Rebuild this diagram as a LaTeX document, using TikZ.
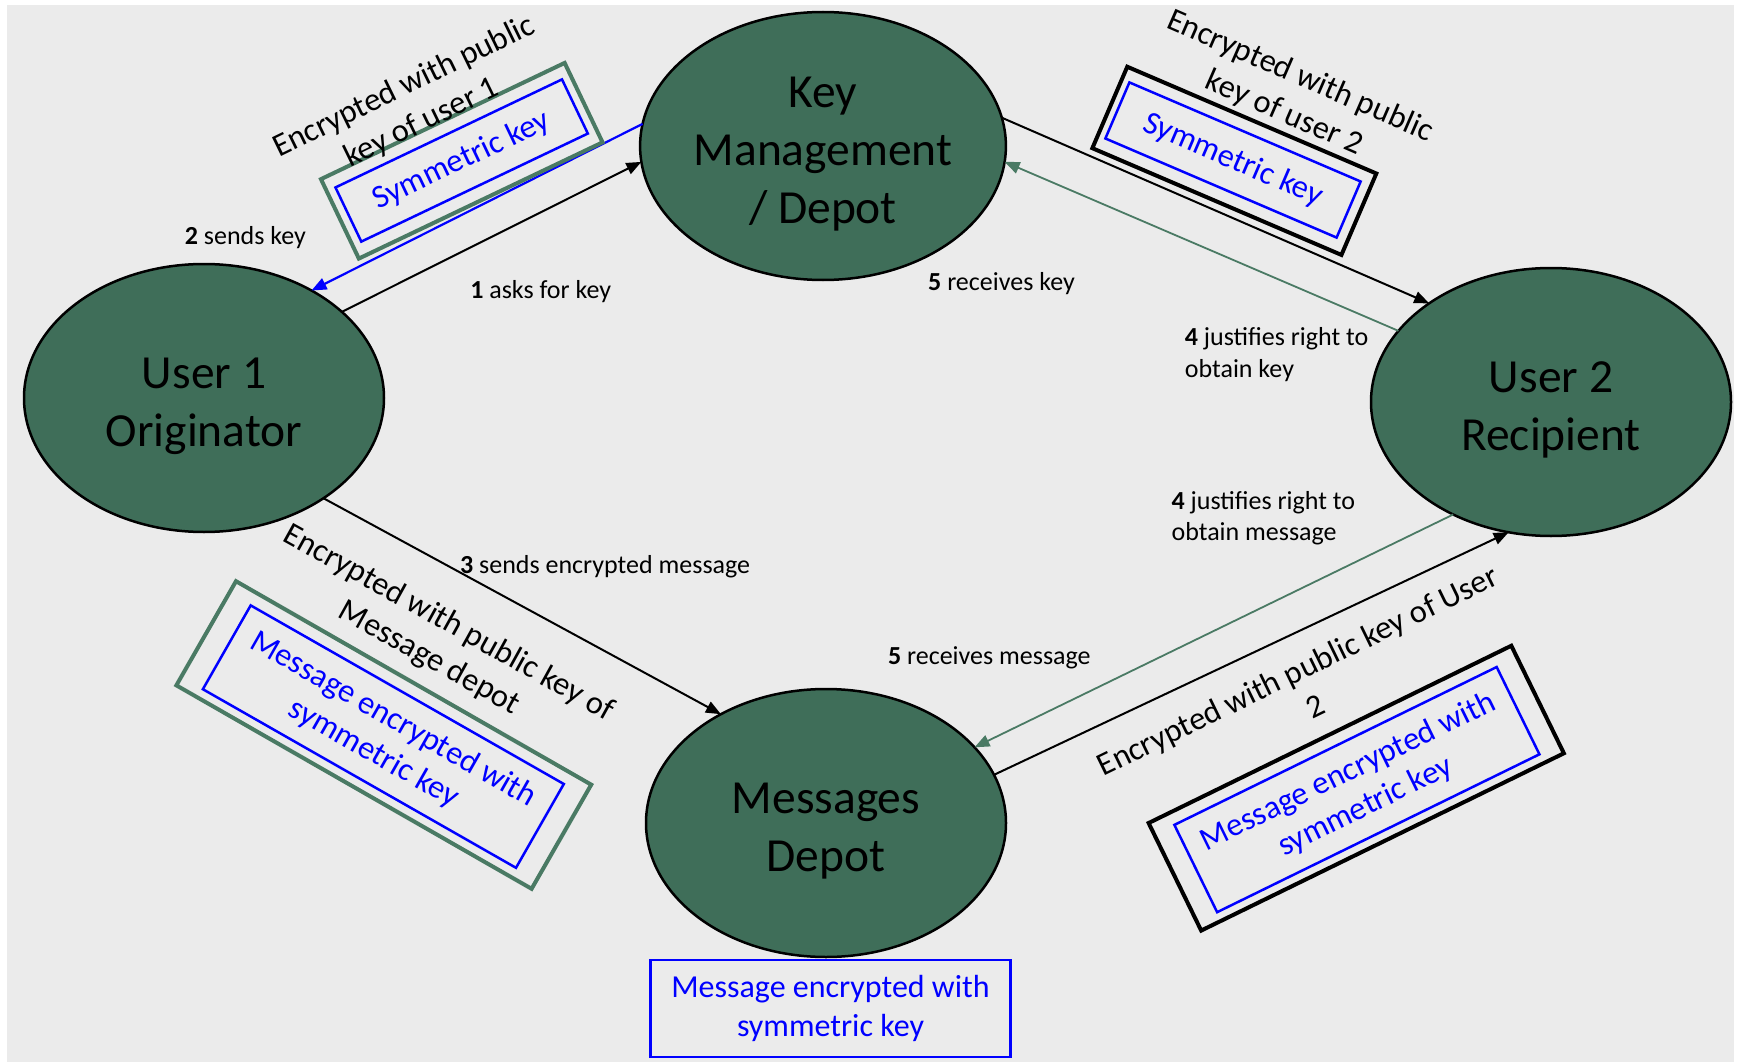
\documentclass[tikz,border=0pt]{standalone}
\usepackage{fontspec}
\setmainfont{Carlito}
\usetikzlibrary{arrows.meta,shapes.geometric}
\definecolor{bgc}{HTML}{EBEBEB}
\definecolor{dkg}{HTML}{3F6E59}
\definecolor{grn}{HTML}{4A7A64}
\definecolor{bluec}{HTML}{0000FF}
\newcommand{\elltext}[1]{\raisebox{-7.5pt}[\height][\depth]{\begin{tabular}{@{}c@{}}#1\end{tabular}}}
\begin{document}
\begin{tikzpicture}[x=1pt,y=-1pt,
  ell/.style={ellipse,draw=black,line width=2.5pt,fill=dkg,minimum width=360pt,minimum height=268pt,inner sep=0pt,outer sep=0pt,align=center,font=\fontsize{47.5}{58}\selectfont},
  lbl/.style={font=\fontsize{26}{31.5}\selectfont,inner sep=0pt,align=left},
  ann/.style={font=\fontsize{32.5}{40}\selectfont,inner sep=0pt,align=center},
  obox/.style={rectangle,line width=4pt,inner sep=0pt,outer sep=0pt},
  ibox/.style={rectangle,draw=bluec,line width=2.5pt,inner sep=0pt,outer sep=0pt,text=bluec,align=center,font=\fontsize{32.5}{39}\selectfont},
  tip/.style={-{Triangle[length=15pt,width=12pt]}},
  blkarr/.style={tip,draw=black,line width=2pt},
  grnarr/.style={tip,draw=grn,line width=1.8pt},
  bluarr/.style={tip,draw=bluec,line width=2.2pt}
]
\useasboundingbox (0,0) rectangle (1741,1062);
\fill[white] (0,0) rectangle (1741,1062);
\fill[bgc] (7,5) rectangle (1734,1062);

% ellipses
\node[ell] (u1) at (204,398) {\elltext{User 1\\Originator}};
\node[ell] (km) at (823,146) {\elltext{Key\\Management\\/ Depot}};
\node[ell] (u2) at (1551,402) {\elltext{User 2\\Recipient}};
\node[ell] (md) at (826,823) {\elltext{Messages\\Depot}};

% connectors
\draw[bluarr] (km.173) -- (u1.45);
\draw[blkarr] (u1.32) -- (km.185);
\draw[blkarr] (km.9) -- (u2.141);
\draw[grnarr] (u2.155) -- (km.355);
\draw[blkarr] (u1.320) -- (md.134);
\draw[grnarr] (u2.229) -- (md.27);
\draw[blkarr] (md.16) -- (u2.252);

% labels
\node[lbl] (l2) at (245.4,238) {\textbf{2} sends key};
\node[lbl] (l1) at (540.7,291.5) {\textbf{1} asks for key};
\node[lbl] (l5a) at (1001.5,283.5) {\textbf{5} receives key};
\node[lbl,anchor=west] (l4a) at (1184.7,354.5) {\textbf{4} justifies right to\\obtain key};
\node[lbl,anchor=west] (l4b) at (1171.4,518.3) {\textbf{4} justifies right to\\obtain message};
\node[lbl] (l3) at (605.1,566.6) {\textbf{3} sends encrypted message};
\node[lbl] (l5b) at (989.3,657.7) {\textbf{5} receives message};

% upper-left annotation
\node[obox,draw=grn,minimum width=270pt,minimum height=88pt,rotate=25.5] (b1o) at (461.75,160.75) {};
\node[ibox,minimum width=251pt,minimum height=60pt,rotate=25.5] (b1i) at (461.65,160.5) {Symmetric key};
\node[ann,rotate=26] (t1) at (413,105) {Encrypted with public\\key of user 1};

% upper-right annotation
\node[obox,draw=black,minimum width=271pt,minimum height=88.6pt,rotate=-23.2] (b2o) at (1234.35,160.85) {};
\node[ibox,minimum width=251.6pt,minimum height=61pt,rotate=-23.2] (b2i) at (1233,160) {Symmetric key};
\node[ann,rotate=-23.5] (t2) at (1292,95) {Encrypted with public\\key of user 2};

% lower-left annotation
\node[obox,draw=grn,minimum width=409.4pt,minimum height=120pt,rotate=-29.8] (b3o) at (383.8,735) {};
\node[ibox,minimum width=360.5pt,minimum height=96.5pt,rotate=-29.7] (b3i) at (383.35,736.6) {Message encrypted with\\symmetric key};
\node[ann,rotate=-29] (t3) at (439,641) {Encrypted with public key of\\Message depot};

% lower-right annotation
\node[obox,draw=black,minimum width=403.7pt,minimum height=119.7pt,rotate=26.05] (b4o) at (1356.25,788.15) {};
\node[ibox,minimum width=358.9pt,minimum height=97.2pt,rotate=26.1] (b4i) at (1356.9,789.6) {Message encrypted with\\symmetric key};
\node[ann,rotate=26] (t4) at (1306,688) {Encrypted with public key of User\\2};

% bottom box
\node[ibox,minimum width=360pt,minimum height=97pt,font=\fontsize{32}{39}\selectfont] (b5) at (830.5,1008.5) {Message encrypted with\\symmetric key};
\end{tikzpicture}
\end{document}
